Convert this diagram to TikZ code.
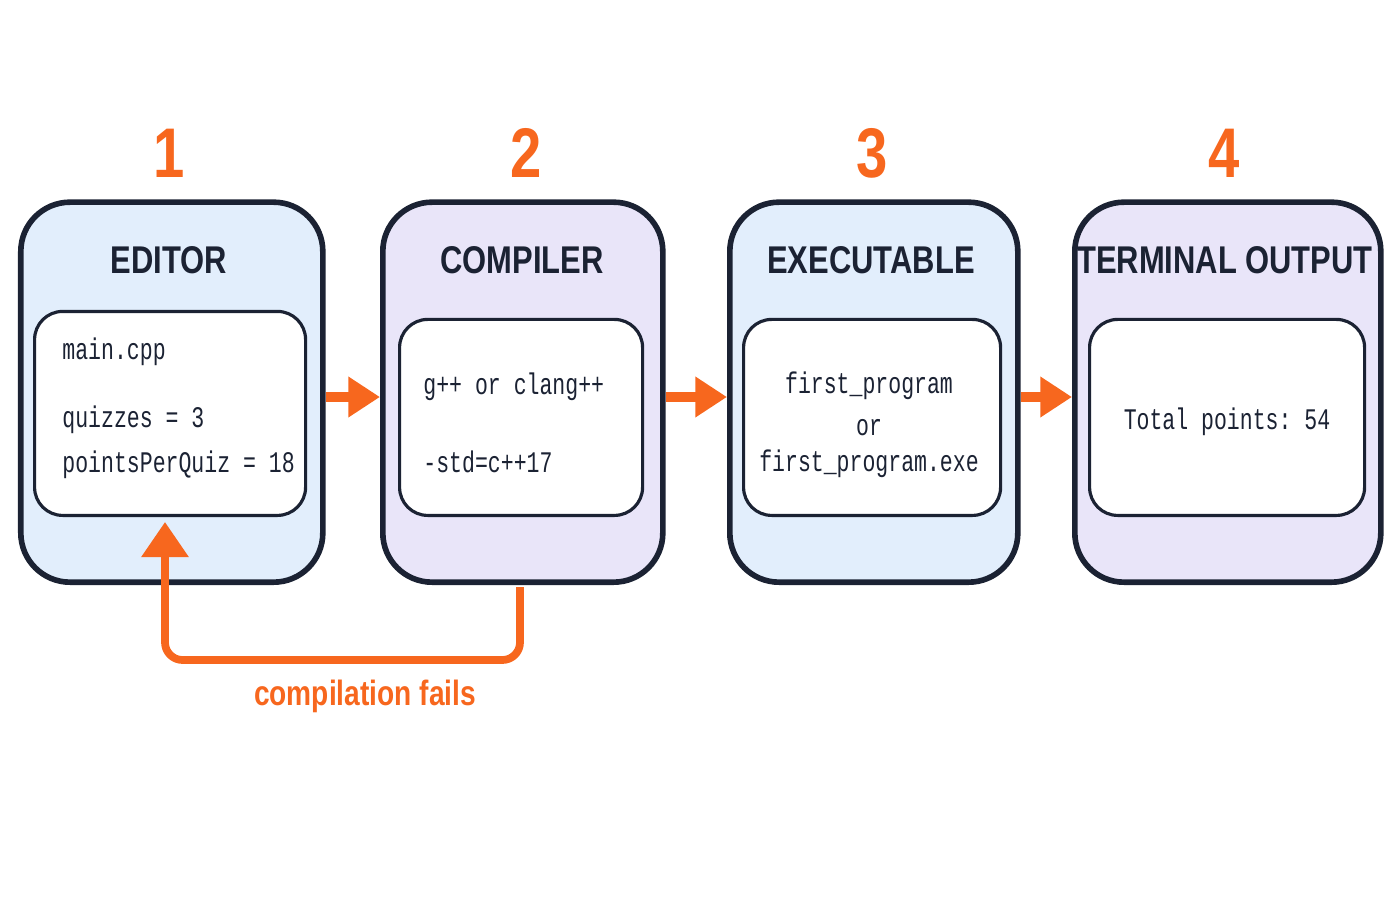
\documentclass[tikz,border=0pt]{standalone}
\usepackage{fontspec}
\setmainfont{Liberation Sans}
\setmonofont[FakeStretch=0.72]{Liberation Mono}
\newfontfamily\narrowfont[FakeStretch=0.8]{Liberation Sans}
\usetikzlibrary{arrows.meta}
\definecolor{navy}{HTML}{1B2233}
\definecolor{stepblue}{HTML}{E2EEFC}
\definecolor{steplav}{HTML}{E9E5F9}
\definecolor{flow}{HTML}{F7671E}
\tikzset{
	stage/.style={draw=navy, line width=1.6pt, rounded corners=14, anchor=south west},
	inner/.style={draw=navy, line width=0.9pt, fill=white, rounded corners=8, anchor=south west},
	title/.style={font=\narrowfont\bfseries\fontsize{11}{13}\selectfont, text=navy},
	num/.style={font=\narrowfont\bfseries\fontsize{20}{23}\selectfont, text=flow},
	code/.style={font=\ttfamily\fontsize{8.5}{10}\selectfont, text=navy, align=left},
	flowarrow/.style={-{Triangle[length=9pt,width=11pt]}, draw=flow, line width=3pt},
}
\begin{document}
\begin{tikzpicture}
		\useasboundingbox (0,0) rectangle (14,9);
		% stages
		\node[stage, fill=stepblue, minimum width=3.02cm, minimum height=3.8cm] at (0.18,3.15)(editor){};
		\node[stage, fill=steplav, minimum width=2.8cm, minimum height=3.8cm] at (3.8,3.15)(compiler){};
		\node[stage, fill=stepblue, minimum width=2.88cm, minimum height=3.8cm] at (7.27,3.15)(exe){};
		\node[stage, fill=steplav, minimum width=3.06cm, minimum height=3.8cm] at (10.72,3.15)(term){};

		\node[inner, minimum width=2.71cm, minimum height=2.04cm] at (0.33,3.83)(editorIn){};
		\node[inner, minimum width=2.43cm, minimum height=1.96cm] at (3.98,3.83)(compilerIn){};
		\node[inner, minimum width=2.57cm, minimum height=1.96cm] at (7.42,3.83)(exeIn){};
		\node[inner, minimum width=2.75cm, minimum height=1.96cm] at (10.88,3.83)(termIn){};

		% numbers and titles
		\node[num] at (1.69,7.47)(n1){1};
		\node[num] at (5.26,7.47)(n2){2};
		\node[num] at (8.72,7.47)(n3){3};
		\node[num] at (12.24,7.47)(n4){4};
		\node[title] at (1.69,6.4)(t1){EDITOR};
		\node[title] at (5.22,6.4)(t2){COMPILER};
		\node[title] at (8.71,6.4)(t3){EXECUTABLE};
		\node[title] at (12.25,6.4)(t4){TERMINAL OUTPUT};

		% contents
		\node[code, anchor=west] at (0.5,5.48)(c1){main.cpp};
		\node[code, anchor=west] at (0.5,4.8)(c2){quizzes = 3};
		\node[code, anchor=west] at (0.5,4.35)(c3){pointsPerQuiz = 18};
		\node[code, anchor=west] at (4.11,5.13)(c4){g++ or clang++};
		\node[code, anchor=west] at (4.11,4.38)(c5){-std=c++17};
		\node[code] at (8.69,5.14)(c6){first\_program};
		\node[code] at (8.69,4.72)(c7){or};
		\node[code] at (8.69,4.36)(c8){first\_program.exe};
		\node[code] at (12.27,4.78)(c9){Total points: 54};

		% flow
		\draw[flowarrow] (editor.east|-0,5.03) -- (compiler.west|-0,5.03);
		\draw[flowarrow] (compiler.east|-0,5.03) -- (exe.west|-0,5.03);
		\draw[flowarrow] (exe.east|-0,5.03) -- (term.west|-0,5.03);
		\coordinate (back) at (5.2,3.13);
		\draw[draw=flow, line width=2.2pt, rounded corners=5, -{Triangle[length=10pt,width=13pt]}]
			(back)--(5.2,2.4)--(1.65,2.4)--(1.65,3.78);
		\node[font=\narrowfont\bfseries\fontsize{10}{12}\selectfont, text=flow] at (3.65,2.04)(fail){compilation fails};
	\end{tikzpicture}
\end{document}
